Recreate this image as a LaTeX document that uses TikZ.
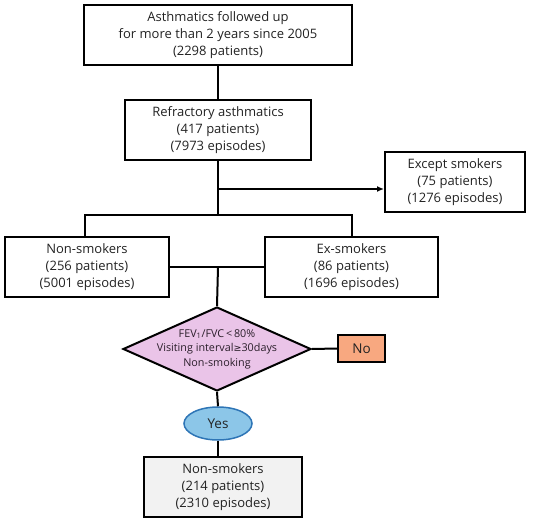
\documentclass[tikz,border=0pt]{standalone}
\usepackage{fontspec}
\setmainfont{Open Sans}
\newfontfamily\symfont{DejaVu Sans}
\usetikzlibrary{shapes.geometric,arrows.meta}
\definecolor{txt}{RGB}{34,34,34}
\definecolor{pinkfill}{RGB}{234,196,232}
\definecolor{salmon}{RGB}{248,168,128}
\definecolor{bluefill}{RGB}{140,198,232}
\definecolor{blueline}{RGB}{46,117,182}
\definecolor{grayfill}{RGB}{242,242,242}
\begin{document}
\begin{tikzpicture}[x=1pt,y=-1pt,
  line width=2pt,
  box/.style={draw=black,rectangle,inner sep=0pt,align=center,text=txt,
    font=\fontsize{13}{17}\selectfont},
  conn/.style={draw=black,line width=2pt}]
\useasboundingbox (0,0) rectangle (550,522);
\node[box,minimum width=268pt,minimum height=60pt] (top) at (218,35)
  {Asthmatics followed up\\for more than 2 years since 2005\\(2298 patients)};
\node[box,minimum width=186pt,minimum height=60pt] (ref) at (218,130)
  {Refractory asthmatics\\(417 patients)\\(7973 episodes)};
\node[box,minimum width=140pt,minimum height=60pt] (exc) at (455,182)
  {Except smokers\\(75 patients)\\(1276 episodes)};
\node[box,minimum width=164pt,minimum height=60pt] (non) at (87,267)
  {Non-smokers\\(256 patients)\\(5001 episodes)};
\node[box,minimum width=173pt,minimum height=60pt] (ex) at (351.5,267)
  {Ex-smokers\\(86 patients)\\(1696 episodes)};
\node[draw=black,diamond,fill=pinkfill,inner sep=0pt,minimum width=188pt,
  minimum height=84pt] (dia) at (217,349) {};
\node[align=center,text=txt!90!violet,inner sep=0pt,
  font=\fontsize{10.8}{14.5}\selectfont] (diatext) at (217,349)
  {FEV\textsubscript{1}/FVC\,<\,80\%\\Visiting interval{\symfont\fontsize{9.5}{14}\selectfont ≥}30days\\Non-smoking};
\node[box,fill=salmon,minimum width=47pt,minimum height=27pt,
  font=\fontsize{13.5}{16}\selectfont] (no) at (361.5,348.5) {No};
\node[draw=blueline,ellipse,fill=bluefill,line width=1.5pt,inner sep=0pt,
  minimum width=68pt,minimum height=33pt,text=txt,
  font=\fontsize{13.5}{16}\selectfont] (yes) at (218,423.5) {Yes};
\node[box,fill=grayfill,minimum width=158pt,minimum height=60pt] (fin) at (223,487)
  {Non-smokers\\(214 patients)\\(2310 episodes)};
\coordinate (br) at (218,215);
\coordinate (ar) at (218,189);
\coordinate (bl) at (85,215);
\coordinate (brr) at (352,215);
\coordinate (mid) at (218,267);
\draw[conn] (top.south) -- (ref.north);
\draw[conn] (ref.south) -- (br);
\draw[conn,-{Latex[length=7pt,width=6pt]}] (ar) -- (ar -| exc.west);
\draw[conn] (bl |- non.north) -- (bl) -- (brr) -- (brr |- ex.north);
\draw[conn] (non.east) -- (ex.west);
\draw[conn] (mid) -- (dia.north);
\draw[conn] (dia.east) -- (no.west);
\draw[conn] (dia.south) -- (yes.north);
\draw[conn] (yes.south) -- (yes.south |- fin.north);
\end{tikzpicture}
\end{document}
